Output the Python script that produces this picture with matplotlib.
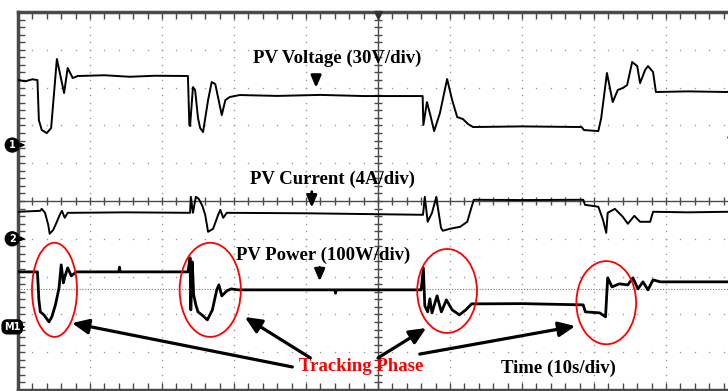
import numpy as np
import matplotlib
matplotlib.use("Agg")
import matplotlib.pyplot as plt
from matplotlib.patches import Ellipse

# scope settings: 10 s/div, 10 horizontal div, 10 vertical div
t_div = 10.0
v_scale, i_scale, p_scale = 30.0, 4.0, 100.0     # per division
ch1_off, ch2_off, m1_off = 1.48, -1.0, -3.33     # ground marker positions (div)

# PV voltage (V) vs time (s)
v_t = [0, 1.0, 2.0, 2.7, 2.9, 3.3, 4.0, 4.6, 5.4, 6.4, 6.9, 7.6, 8.3, 12.0, 15.5, 19.0, 23.6,
       23.8, 23.9, 24.3, 24.6, 25.0, 25.3, 25.7, 26.4, 26.9, 27.4, 28.3, 28.8, 29.4,
       30.8, 36.0, 42.0, 48.0, 56.2, 56.3, 56.8, 57.3, 57.8, 58.6, 59.6, 60.3, 61.0,
       61.8, 62.5, 63.2, 70.0, 78.3, 78.6, 80.6, 81.0, 81.8, 82.6, 83.3, 84.0, 84.6,
       85.3, 86.0, 86.4, 87.1, 87.5, 88.2, 88.6, 93.0, 98.6]
v_val = [51.6, 50.6, 52.2, 51.6, 19.8, 11.9, 9.5, 13.5, 68.3, 41.3, 61.1, 53.2, 54.8, 55.4, 54.2, 55.0, 54.8,
         15.9, 15.1, 46.0, 43.7, 21.4, 13.5, 10.3, 35.7, 50.0, 48.4, 23.8, 35.7, 38.1,
         39.7, 39.0, 39.8, 38.9, 38.9, 15.9, 34.1, 23.0, 11.1, 25.4, 52.4, 35.7, 22.2,
         20.6, 16.7, 14.3, 14.8, 14.3, 11.9, 11.1, 21.4, 57.2, 34.1, 43.7, 45.3, 47.6,
         65.9, 62.7, 49.2, 59.6, 62.7, 58.0, 42.1, 42.6, 42.1]

# PV current (A) vs time (s)
i_t = [0, 3.1, 3.3, 3.75, 4.2, 4.4, 4.9, 5.4, 5.8, 6.1, 6.5, 6.9, 7.5, 15.0, 23.9,
       24.0, 24.3, 24.7, 25.1, 25.6, 26.0, 26.4, 27.1, 27.8, 28.1, 28.5, 29.0, 40.0,
       56.25, 56.5, 56.9, 57.5, 58.1, 58.3, 58.75, 59.0, 60.0, 61.4, 62.4, 62.8, 63.3,
       70.0, 78.5, 78.75, 80.6, 81.25, 81.7, 81.9, 82.9, 84.0, 84.7, 85.6, 86.4, 87.8,
       88.2, 93.0, 98.6]
i_val = [2.86, 2.96, 3.17, 2.75, 1.48, 0.53, 0.95, 1.80, 2.54, 2.96, 2.22, 2.75, 2.75, 2.80, 2.75,
         4.44, 2.75, 4.44, 4.23, 3.49, 2.54, 0.74, 1.06, 2.54, 3.07, 2.22, 2.75, 2.70,
         2.54, 4.44, 1.80, 2.75, 4.44, 3.39, 1.16, 0.85, 1.06, 1.27, 1.80, 2.86, 4.13,
         4.10, 4.13, 3.60, 3.39, 2.01, 0.63, 2.75, 3.17, 2.33, 1.59, 2.43, 1.80, 1.80,
         2.86, 2.80, 2.86]

# PV power (W) vs time (s)
p_t = [0, 2.7, 2.9, 3.1, 3.6, 4.3, 4.7, 5.2, 5.7, 6.0, 6.3, 6.5, 6.9, 7.4, 8.1,
       14.0, 14.1, 14.2, 23.6,
       23.9, 24.0, 24.2, 24.4, 24.7, 25.0, 25.7, 26.3, 27.0, 27.6, 27.9, 28.3, 29.0,
       29.6, 30.5, 44.0, 44.1, 44.2, 56.0, 56.3, 56.5, 56.9, 57.2,
       57.5, 58.2, 58.8, 59.5, 60.3, 61.3, 62.2, 63.0, 63.8, 70.0, 78.5, 78.8, 80.8,
       81.6, 81.9, 82.5, 83.5, 84.7, 85.4, 86.1, 86.8, 87.5, 88.2, 89.2, 98.6]
p_val = [145.5, 145.5, 71.4, 39.7, 31.8, 13.2, 26.5, 58.2, 103.2, 164.1, 116.4, 132.3, 156.1, 134.9, 145.5,
         145.5, 158.0, 145.5, 145.5,
         182.6, 45.0, 172.0, 84.7, 58.2, 39.7, 29.1, 18.5, 45.0, 97.9, 111.1, 82.0, 95.3,
         100.5, 97.9, 97.9, 89.0, 97.9, 97.9, 156.1, 55.6, 39.7, 74.1,
         37.0, 82.0, 39.7, 71.4, 45.0, 31.8, 45.0, 60.9, 60.9, 61.5, 58.2, 39.7, 37.0,
         26.5, 129.7, 105.8, 113.8, 111.1, 129.7, 100.5, 119.1, 97.9, 124.4, 119.1, 119.1]

frame_c = "#4a4a4a"
fig = plt.figure(figsize=(7.28, 3.91), dpi=100)
ax = fig.add_axes([18 / 728, 1 / 391, 720 / 728, 378 / 391])
ax.set_xlim(0, 100)
ax.set_ylim(-5, 5)

for s in ax.spines.values():
    s.set_color(frame_c)
    s.set_linewidth(2.5)
ax.set_xticks(np.arange(0, 101, 2))
ax.set_yticks(np.arange(-5, 5.01, 0.2))
ax.tick_params(direction="in", length=5, width=1, color=frame_c,
               top=True, right=True, labelbottom=False, labelleft=False)

# dotted graticule
gx, gy = [], []
for xv in np.arange(10, 100, 10):
    if xv != 50:
        yy = np.arange(-5, 5.01, 0.2)
        gx += [xv] * len(yy)
        gy += list(yy)
for yv in np.arange(-4, 5, 1):
    if yv != 0:
        xx = np.arange(0, 101, 2)
        gx += list(xx)
        gy += [yv] * len(xx)
ax.scatter(gx, gy, s=1.2, color="#9a9a9a", linewidths=0, zorder=1)

# centre crosshair with ticks
ax.axvline(50, color=frame_c, lw=1, zorder=1)
ax.axhline(0, color=frame_c, lw=1, zorder=1)
cy = np.arange(-5, 5.01, 0.2)
ax.plot([50] * len(cy), cy, ls="none", marker="_", ms=6, mew=1, color=frame_c, zorder=1)
cx = np.arange(0, 101, 2)
ax.plot(cx, [0] * len(cx), ls="none", marker="|", ms=6, mew=1, color=frame_c, zorder=1)

# reference level of the math trace
ax.axhline(m1_off + 1, color="#777777", lw=0.8, ls=(0, (1, 1.5)), zorder=1)

# traces
ax.plot(v_t, ch1_off + np.array(v_val) / v_scale, color="black", lw=1.4, zorder=3)
ax.plot(i_t, ch2_off + np.array(i_val) / i_scale, color="black", lw=1.4, zorder=3)
ax.plot(p_t, m1_off + np.array(p_val) / p_scale, color="black", lw=2.0, zorder=3)

# channel markers
for lab, yv, bs in [("1", ch1_off, "circle,pad=0.2"), ("2", ch2_off, "circle,pad=0.2"),
                    ("M1", m1_off, "round,pad=0.2,rounding_size=0.55")]:
    ax.text(-0.8, yv, lab, color="white", fontsize=7, fontweight="bold",
            ha="center", va="center", clip_on=False, zorder=6,
            bbox=dict(boxstyle=bs, fc="black", ec="black"))
    ax.annotate("", xy=(1.4, yv), xytext=(0.2, yv), annotation_clip=False,
                arrowprops=dict(arrowstyle="-|>", color="black", lw=1, mutation_scale=6))
ax.plot(50, 4.93, marker="v", ms=6, color="#333333", clip_on=False, zorder=6)
ax.plot(98.9, 1.69, marker="<", ms=4, color="#333333", zorder=6)

# labels
tf = dict(family="Liberation Serif", fontweight="bold", fontsize=13.5, ha="center", va="center")
ax.text(44.4, 3.77, "PV Voltage (30V/div)", **tf)
ax.text(43.7, 0.58, "PV Current (4A/div)", **tf)
ax.text(42.4, -1.43, "PV Power (100W/div)", **tf)
ax.text(47.7, -4.37, "Tracking Phase", color="#ff0000", **tf)
ax.text(75.1, -4.44, "Time (10s/div)", **tf)

ka = dict(arrowstyle="-|>,head_length=0.7,head_width=0.3", color="black", lw=2)
ax.annotate("", xy=(41.4, 2.92), xytext=(41.4, 3.36), arrowprops=ka)
ax.annotate("", xy=(40.8, -0.25), xytext=(40.8, 0.32), arrowprops=ka)
ax.annotate("", xy=(41.9, -2.2), xytext=(41.9, -1.68), arrowprops=ka)

# tracking phase markers
for cxe, cye, w, h in [(5.07, -2.35, 6.25, 2.49), (26.7, -2.35, 8.5, 2.49),
                       (59.6, -2.38, 8.3, 2.22), (81.7, -2.69, 8.3, 2.2)]:
    ax.add_patch(Ellipse((cxe, cye), w, h, fill=False, ec="#ff0000", lw=1.3, zorder=4))
for tail, head in [((38.1, -4.39), (7.5, -3.23)), ((40.6, -4.15), (31.5, -3.07)),
                   ((50.0, -4.15), (56.7, -3.36)), ((55.8, -4.05), (77.4, -3.31))]:
    ax.annotate("", xy=head, xytext=tail,
                arrowprops=dict(arrowstyle="-|>,head_length=1.0,head_width=0.45",
                                color="black", lw=2.3, shrinkA=0, shrinkB=0))

fig.savefig("out.png", dpi=100)
